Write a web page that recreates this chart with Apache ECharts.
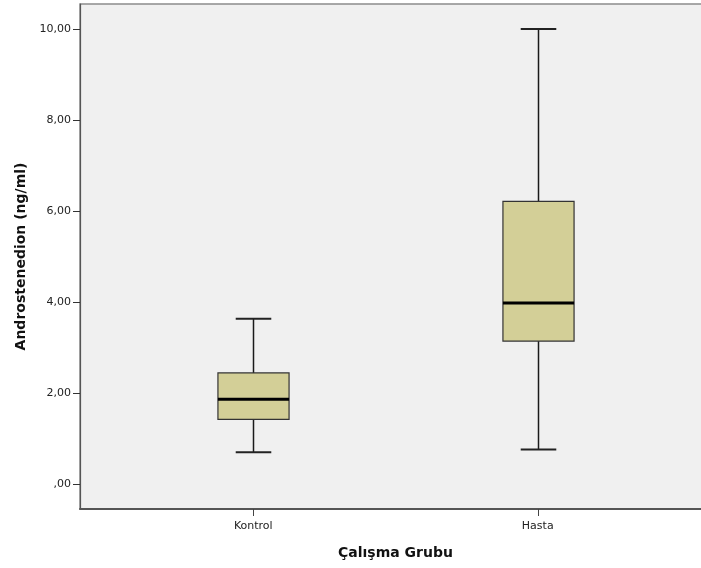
<!DOCTYPE html>
<html>
<head>
<meta charset="utf-8">
<script src="https://cdn.jsdelivr.net/npm/echarts@6/dist/echarts.min.js"></script>
<style>
  html, body { margin: 0; padding: 0; background: #ffffff; }
  #chart { width: 701px; height: 568px; }
</style>
</head>
<body>
<div id="chart"></div>
<script>
// Groups and their box-plot statistics (ng/ml)
const categories = ['Kontrol', 'Hasta'];
const lowerWhisker = [0.70, 0.76];
const q1 = [1.42, 3.14];
const median = [1.86, 3.98];
const q3 = [2.44, 6.21];
const upperWhisker = [3.63, 10.00];
const yTicks = [0, 2, 4, 6, 8, 10];

const fmt = v => (v === 0 ? ',00' : v.toFixed(2).replace('.', ','));

const boxData = categories.map((c, i) => [i, lowerWhisker[i], q1[i], median[i], q3[i], upperWhisker[i]]);

function renderBox(params, api) {
  const idx = api.value(0);
  const band = api.size([1, 0])[0];
  const boxW = band * 0.25;
  const capW = boxW / 2;
  const pLow = api.coord([idx, api.value(1)]);
  const pQ1 = api.coord([idx, api.value(2)]);
  const pMed = api.coord([idx, api.value(3)]);
  const pQ3 = api.coord([idx, api.value(4)]);
  const pHigh = api.coord([idx, api.value(5)]);
  const x = Math.round(pQ1[0]) + 0.5;
  const lineStyle = { stroke: '#1a1a1a', lineWidth: 1.5 };
  return {
    type: 'group',
    children: [
      { type: 'line', shape: { x1: x, y1: pHigh[1], x2: x, y2: pQ3[1] }, style: lineStyle },
      { type: 'line', shape: { x1: x, y1: pQ1[1], x2: x, y2: pLow[1] }, style: lineStyle },
      { type: 'line', shape: { x1: x - capW / 2, y1: pHigh[1], x2: x + capW / 2, y2: pHigh[1] }, style: { stroke: '#222', lineWidth: 2 } },
      { type: 'line', shape: { x1: x - capW / 2, y1: pLow[1], x2: x + capW / 2, y2: pLow[1] }, style: { stroke: '#222', lineWidth: 2 } },
      { type: 'rect', shape: { x: x - boxW / 2, y: pQ3[1], width: boxW, height: pQ1[1] - pQ3[1] },
        style: { fill: '#d3cf97', stroke: '#333333', lineWidth: 1.2 } },
      { type: 'line', shape: { x1: x - boxW / 2, y1: pMed[1], x2: x + boxW / 2, y2: pMed[1] },
        style: { stroke: '#000000', lineWidth: 3 } }
    ]
  };
}

const chart = echarts.init(document.getElementById('chart'), null, { renderer: 'canvas' });
const fontFamily = 'DejaVu Sans, sans-serif';

chart.setOption({
  animation: false,
  backgroundColor: '#ffffff',
  grid: [
    { left: 80, top: 4, right: -4, bottom: 59, outerBoundsMode: 'none', containLabel: false,
      show: true, backgroundColor: '#f0f0f0', borderColor: '#8c8c8c', borderWidth: 1.5 },
    { left: 111, top: 4, right: 21, bottom: 59, outerBoundsMode: 'none', containLabel: false }
  ],
  xAxis: [
    {
      gridIndex: 0, type: 'value', min: 0, max: 1,
      axisLine: { show: true, onZero: false, lineStyle: { color: '#555555', width: 2 } },
      axisTick: { show: false }, axisLabel: { show: false }, splitLine: { show: false }
    },
    {
      gridIndex: 1, type: 'category', data: categories,
      name: 'Çalışma Grubu', nameLocation: 'middle', nameGap: 37,
      nameTextStyle: { fontFamily, fontSize: 14, fontWeight: 'bold', color: '#111' },
      axisLine: { show: false, onZero: false },
      axisTick: { show: true, alignWithLabel: true, length: 7, lineStyle: { color: '#444', width: 1 } },
      axisLabel: { fontFamily, fontSize: 11, color: '#222', margin: 12 },
      splitLine: { show: false }
    }
  ],
  yAxis: [
    {
      gridIndex: 0, type: 'value', min: -0.55, max: 10.55,
      name: 'Androstenedion (ng/ml)', nameLocation: 'middle', nameGap: 48,
      nameTextStyle: { fontFamily, fontSize: 14, fontWeight: 'bold', color: '#111' },
      axisLine: { show: true, lineStyle: { color: '#555555', width: 1.2 } },
      axisTick: { show: true, length: 7, customValues: yTicks, lineStyle: { color: '#333', width: 1 } },
      axisLabel: { fontFamily, fontSize: 11, color: '#222', margin: 9, customValues: yTicks, formatter: fmt },
      splitLine: { show: false }
    },
    {
      gridIndex: 1, type: 'value', min: -0.55, max: 10.55, show: false
    }
  ],
  series: [
    {
      type: 'custom',
      xAxisIndex: 1,
      yAxisIndex: 1,
      data: boxData,
      encode: { x: 0, y: [1, 2, 3, 4, 5] },
      renderItem: renderBox
    }
  ]
});
</script>
</body>
</html>
